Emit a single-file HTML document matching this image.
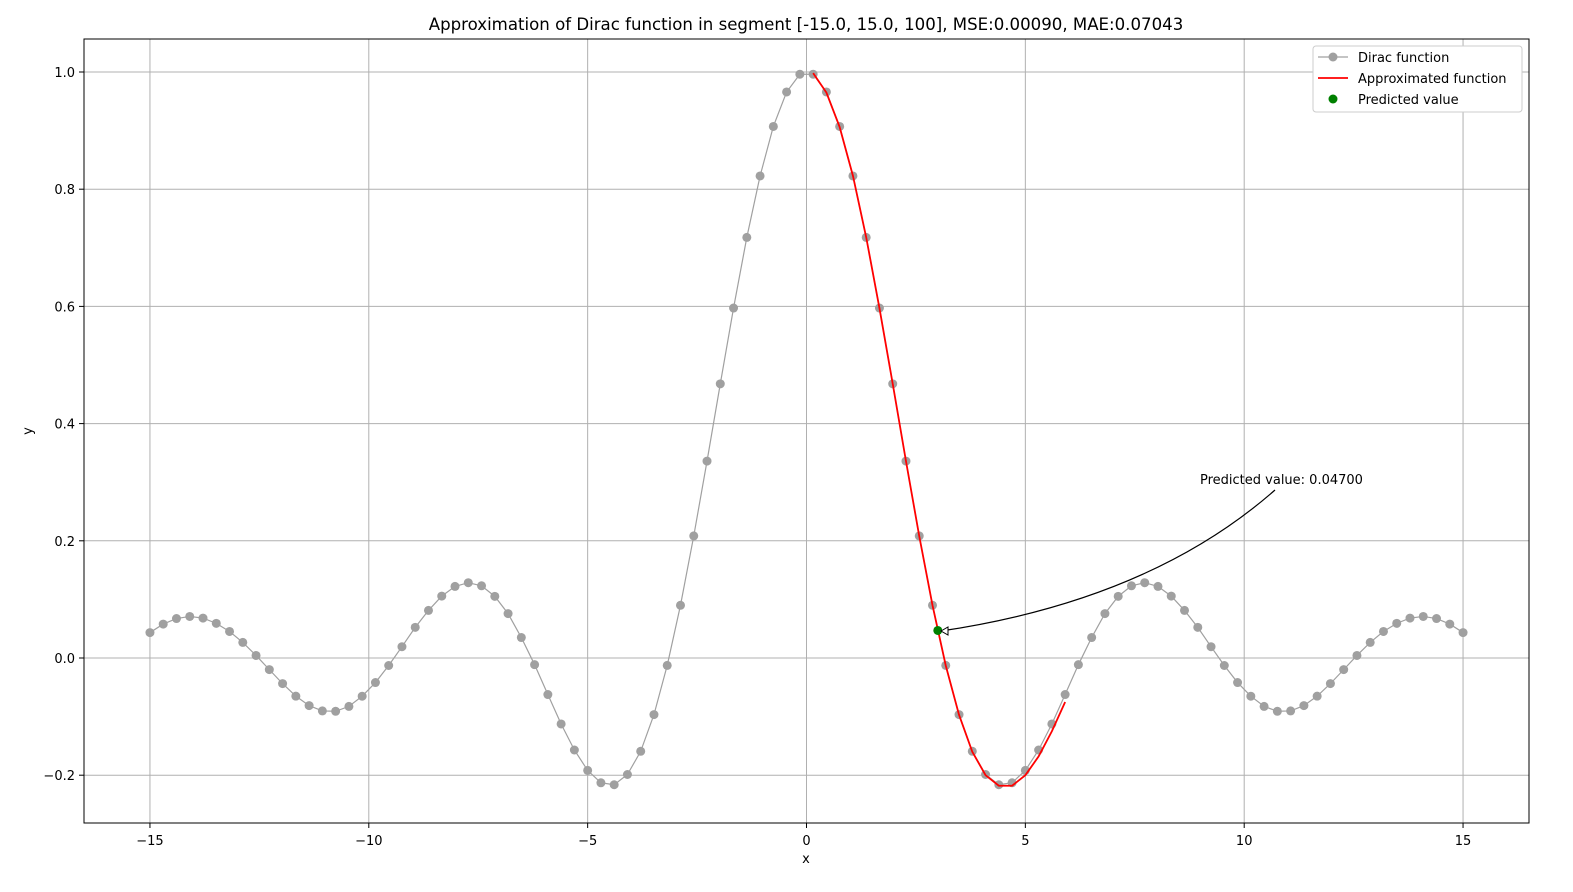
<!DOCTYPE html>
<html><head><meta charset="utf-8"><style>
html,body{margin:0;padding:0;background:#fff;overflow:hidden;width:1573px;height:892px}
svg{display:block}
svg text{font-family:"DejaVu Sans","Liberation Sans",sans-serif;fill:#000}
</style></head><body>
<svg id="chart" width="1573" height="892" xmlns="http://www.w3.org/2000/svg">
<text x="806" y="30" font-size="16.6" text-anchor="middle">Approximation of Dirac function in segment [-15.0, 15.0, 100], MSE:0.00090, MAE:0.07043</text>
<g id="grid"></g>
<g id="series"></g>
<rect x="84" y="39" width="1445" height="784" fill="none" stroke="#000" stroke-width="1"/>
<g id="axes"></g>
<text x="806" y="863" font-size="13" text-anchor="middle">x</text>
<text x="32" y="431" font-size="13" text-anchor="middle" transform="rotate(-90 32 431)">y</text>
<g>
<text x="1200" y="484" font-size="13">Predicted value: 0.04700</text>
<path d="M1275,490 Q1150,600 941,631" fill="none" stroke="#000" stroke-width="1.2"/>
<path d="M941,631 L948,627 L948,635 Z" fill="#fff" stroke="#000"/>
</g>
<g>
<rect x="1313" y="46" width="209" height="66" rx="3" fill="#fff" stroke="#ccc"/>
<g><line x1="1318" y1="57" x2="1348" y2="57" stroke="#a0a0a0" stroke-width="1.2"/><circle cx="1333" cy="57" r="4.5" fill="#a0a0a0"/><text x="1358" y="62" font-size="13">Dirac function</text></g>
<g><line x1="1318" y1="78" x2="1348" y2="78" stroke="#f00" stroke-width="1.8"/><text x="1358" y="83" font-size="13">Approximated function</text></g>
<g><circle cx="1333" cy="99" r="4.5" fill="#008000"/><text x="1358" y="104" font-size="13">Predicted value</text></g>
</g>
</svg>
<script>
const halfY=[0.9962,0.9659,0.9071,0.8226,0.7177,0.5972,0.4678,0.3360,0.2083,0.0900,-0.0126,-0.0966,-0.1592,-0.1988,-0.2163,-0.2129,-0.1918,-0.1570,-0.1126,-0.0623,-0.0114,0.0349,0.0758,0.1052,0.1232,0.1285,0.1222,0.1056,0.0812,0.0523,0.0193,-0.0128,-0.0419,-0.0652,-0.0826,-0.0909,-0.0903,-0.0812,-0.0651,-0.0437,-0.0198,0.0043,0.0266,0.0453,0.0591,0.0681,0.0709,0.0673,0.0579,0.0434];
const diracY=halfY.slice().reverse().concat(halfY);
const approxY=[0.998,0.965,0.906,0.823,0.718,0.597,0.468,0.336,0.208,0.090,-0.013,-0.097,-0.160,-0.200,-0.218,-0.218,-0.200,-0.168,-0.125,-0.075];
const predX=[3.0];
const predY=[0.047];
const xTicks=[-15,-10,-5,0,5,10,15];
const yTicks=[-0.2,0,0.2,0.4,0.6,0.8,1.0];
const NS="http://www.w3.org/2000/svg";
const X=v=>806.5+v*43.77, Y=v=>658-v*586;
const xs=diracY.map((_,i)=>-15+i*30/99);
function mk(t,a,p){const e=document.createElementNS(NS,t);for(const k in a)e.setAttribute(k,a[k]);p.appendChild(e);return e;}
const grid=document.getElementById('grid'),axes=document.getElementById('axes'),ser=document.getElementById('series');
xTicks.forEach(t=>{
 const l=mk('line',{x1:X(t),x2:X(t),y1:39,y2:823,stroke:'#b0b0b0','stroke-width':1},grid);
 
 
 mk('line',{x1:X(t),x2:X(t),y1:823,y2:828,stroke:'#000'},axes);
 const tx=mk('text',{x:X(t),y:845,'font-size':13,'text-anchor':'middle'},axes);
 tx.textContent=t<0?'\u2212'+(-t):String(t);
 
 
});
yTicks.forEach(t=>{
 const l=mk('line',{x1:84,x2:1529,y1:Y(t),y2:Y(t),stroke:'#b0b0b0','stroke-width':1},grid);
 
 
 mk('line',{x1:79,x2:84,y1:Y(t),y2:Y(t),stroke:'#000'},axes);
 const tx=mk('text',{x:75,y:Y(t)+5,'font-size':13,'text-anchor':'end'},axes);
 tx.textContent=(t<0?'\u2212':'')+Math.abs(t).toFixed(1);
 
 
});
const dl=mk('polyline',{points:diracY.map((v,i)=>X(xs[i])+','+Y(v)).join(' '),fill:'none',stroke:'#a0a0a0','stroke-width':1.2},ser);


diracY.forEach((v,i)=>{
 const c=mk('circle',{cx:X(xs[i]),cy:Y(v),r:4.5,fill:'#a0a0a0'},ser);
 
 
});
const al=mk('polyline',{points:approxY.map((v,i)=>X(xs[50+i])+','+Y(v)).join(' '),fill:'none',stroke:'#f00','stroke-width':1.8},ser);


predX.forEach((x,i)=>{
 const c=mk('circle',{cx:X(x),cy:Y(predY[i]),r:4.5,fill:'#008000'},ser);
 
 
});
</script>
</body></html>
